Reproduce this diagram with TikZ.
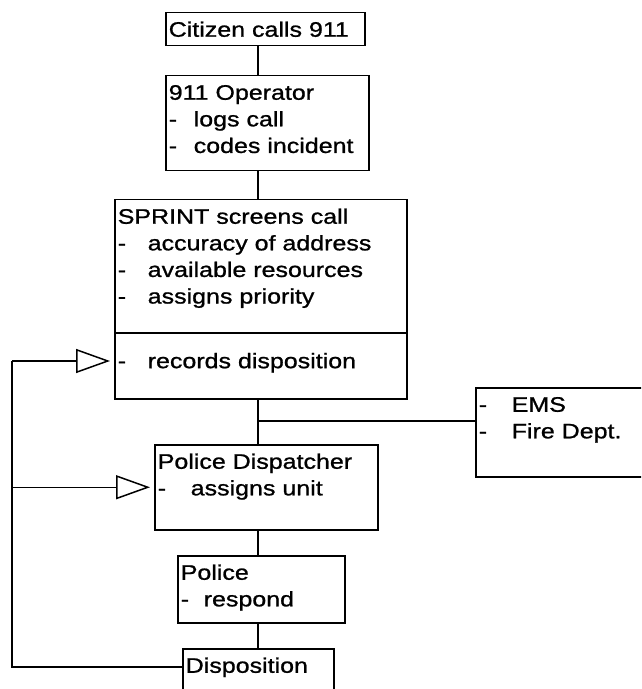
\documentclass[tikz,border=0pt]{standalone}
\usepackage{fontspec}
\newfontfamily\lsans[FakeStretch=1.19,FakeBold=1]{Liberation Sans}
\usetikzlibrary{arrows.meta}
\newcommand{\itm}[2][15pt]{\makebox[#1][l]{-}#2}
\newcommand{\boxtxt}[3]{\parbox[c][#2][t]{#1}{\leftskip=1.5pt\vspace*{4pt}\rule{0pt}{8pt}#3}}

\begin{document}
\begin{tikzpicture}[x=0.5pt,y=-0.5pt,line width=0.75pt,
    font={\lsans\fontsize{10.5pt}{13.3pt}\selectfont},
    box/.style={draw, anchor=north west, inner sep=0pt},
    tri/.style={-{Triangle[open,length=17pt,width=12pt]}, shorten >=2pt}]
  \useasboundingbox (0,0) rectangle (641,689);
  \clip (0,0) rectangle (641,689);
  % Define nodes
  \node[box] (cit) at (165,12) {\boxtxt{99.5pt}{16.5pt}{Citizen calls 911}};
  \node[box] (op) at (165,75) {\boxtxt{101.5pt}{47.5pt}{911 Operator\\\itm[12.5pt]{logs call}\\\itm[12.5pt]{codes incident}}};
  \node[box] (sprint) at (114,199) {\boxtxt{146pt}{99.5pt}{SPRINT screens call\\\itm{accuracy of address}\\\itm{available resources}\\\itm{assigns priority}\\[19pt]\itm{records disposition}}};
  \node[box] (ems) at (475,387) {\boxtxt{100pt}{44.5pt}{\itm[16.5pt]{EMS}\\\itm[16.5pt]{Fire Dept.}}};
  \node[box] (disp) at (154,444) {\boxtxt{111.5pt}{42.5pt}{Police Dispatcher\\\itm[16.5pt]{assigns unit}}};
  \node[box] (pol) at (177,555) {\boxtxt{83.5pt}{33.5pt}{Police\\\itm[11.5pt]{respond}}};
  \node[box] (dispo) at (182,648) {\boxtxt{75.5pt}{40pt}{Disposition}};
  \draw ([yshift=-67pt]sprint.north west) -- ([yshift=-67pt]sprint.north east);

  % Draw connectors
  \coordinate (spine) at (258,0);
  \coordinate (split) at (258,421);
  \coordinate (back) at (12,361);
  \draw (cit.south -| spine) -- (op.north -| spine);
  \draw (op.south -| spine) -- (sprint.north -| spine);
  \draw (sprint.south -| spine) -- (disp.north -| spine);
  \draw (split) -- (split -| ems.west);
  \draw (disp.south -| spine) -- (pol.north -| spine);
  \draw (pol.south -| spine) -- (dispo.north -| spine);
  \draw ([yshift=-9.5pt]dispo.north west) -| (back);
  \draw[tri] (back) -- (back -| sprint.west);
  \draw[tri] (disp.west -| back) -- (disp.west);
\end{tikzpicture}
\end{document}
